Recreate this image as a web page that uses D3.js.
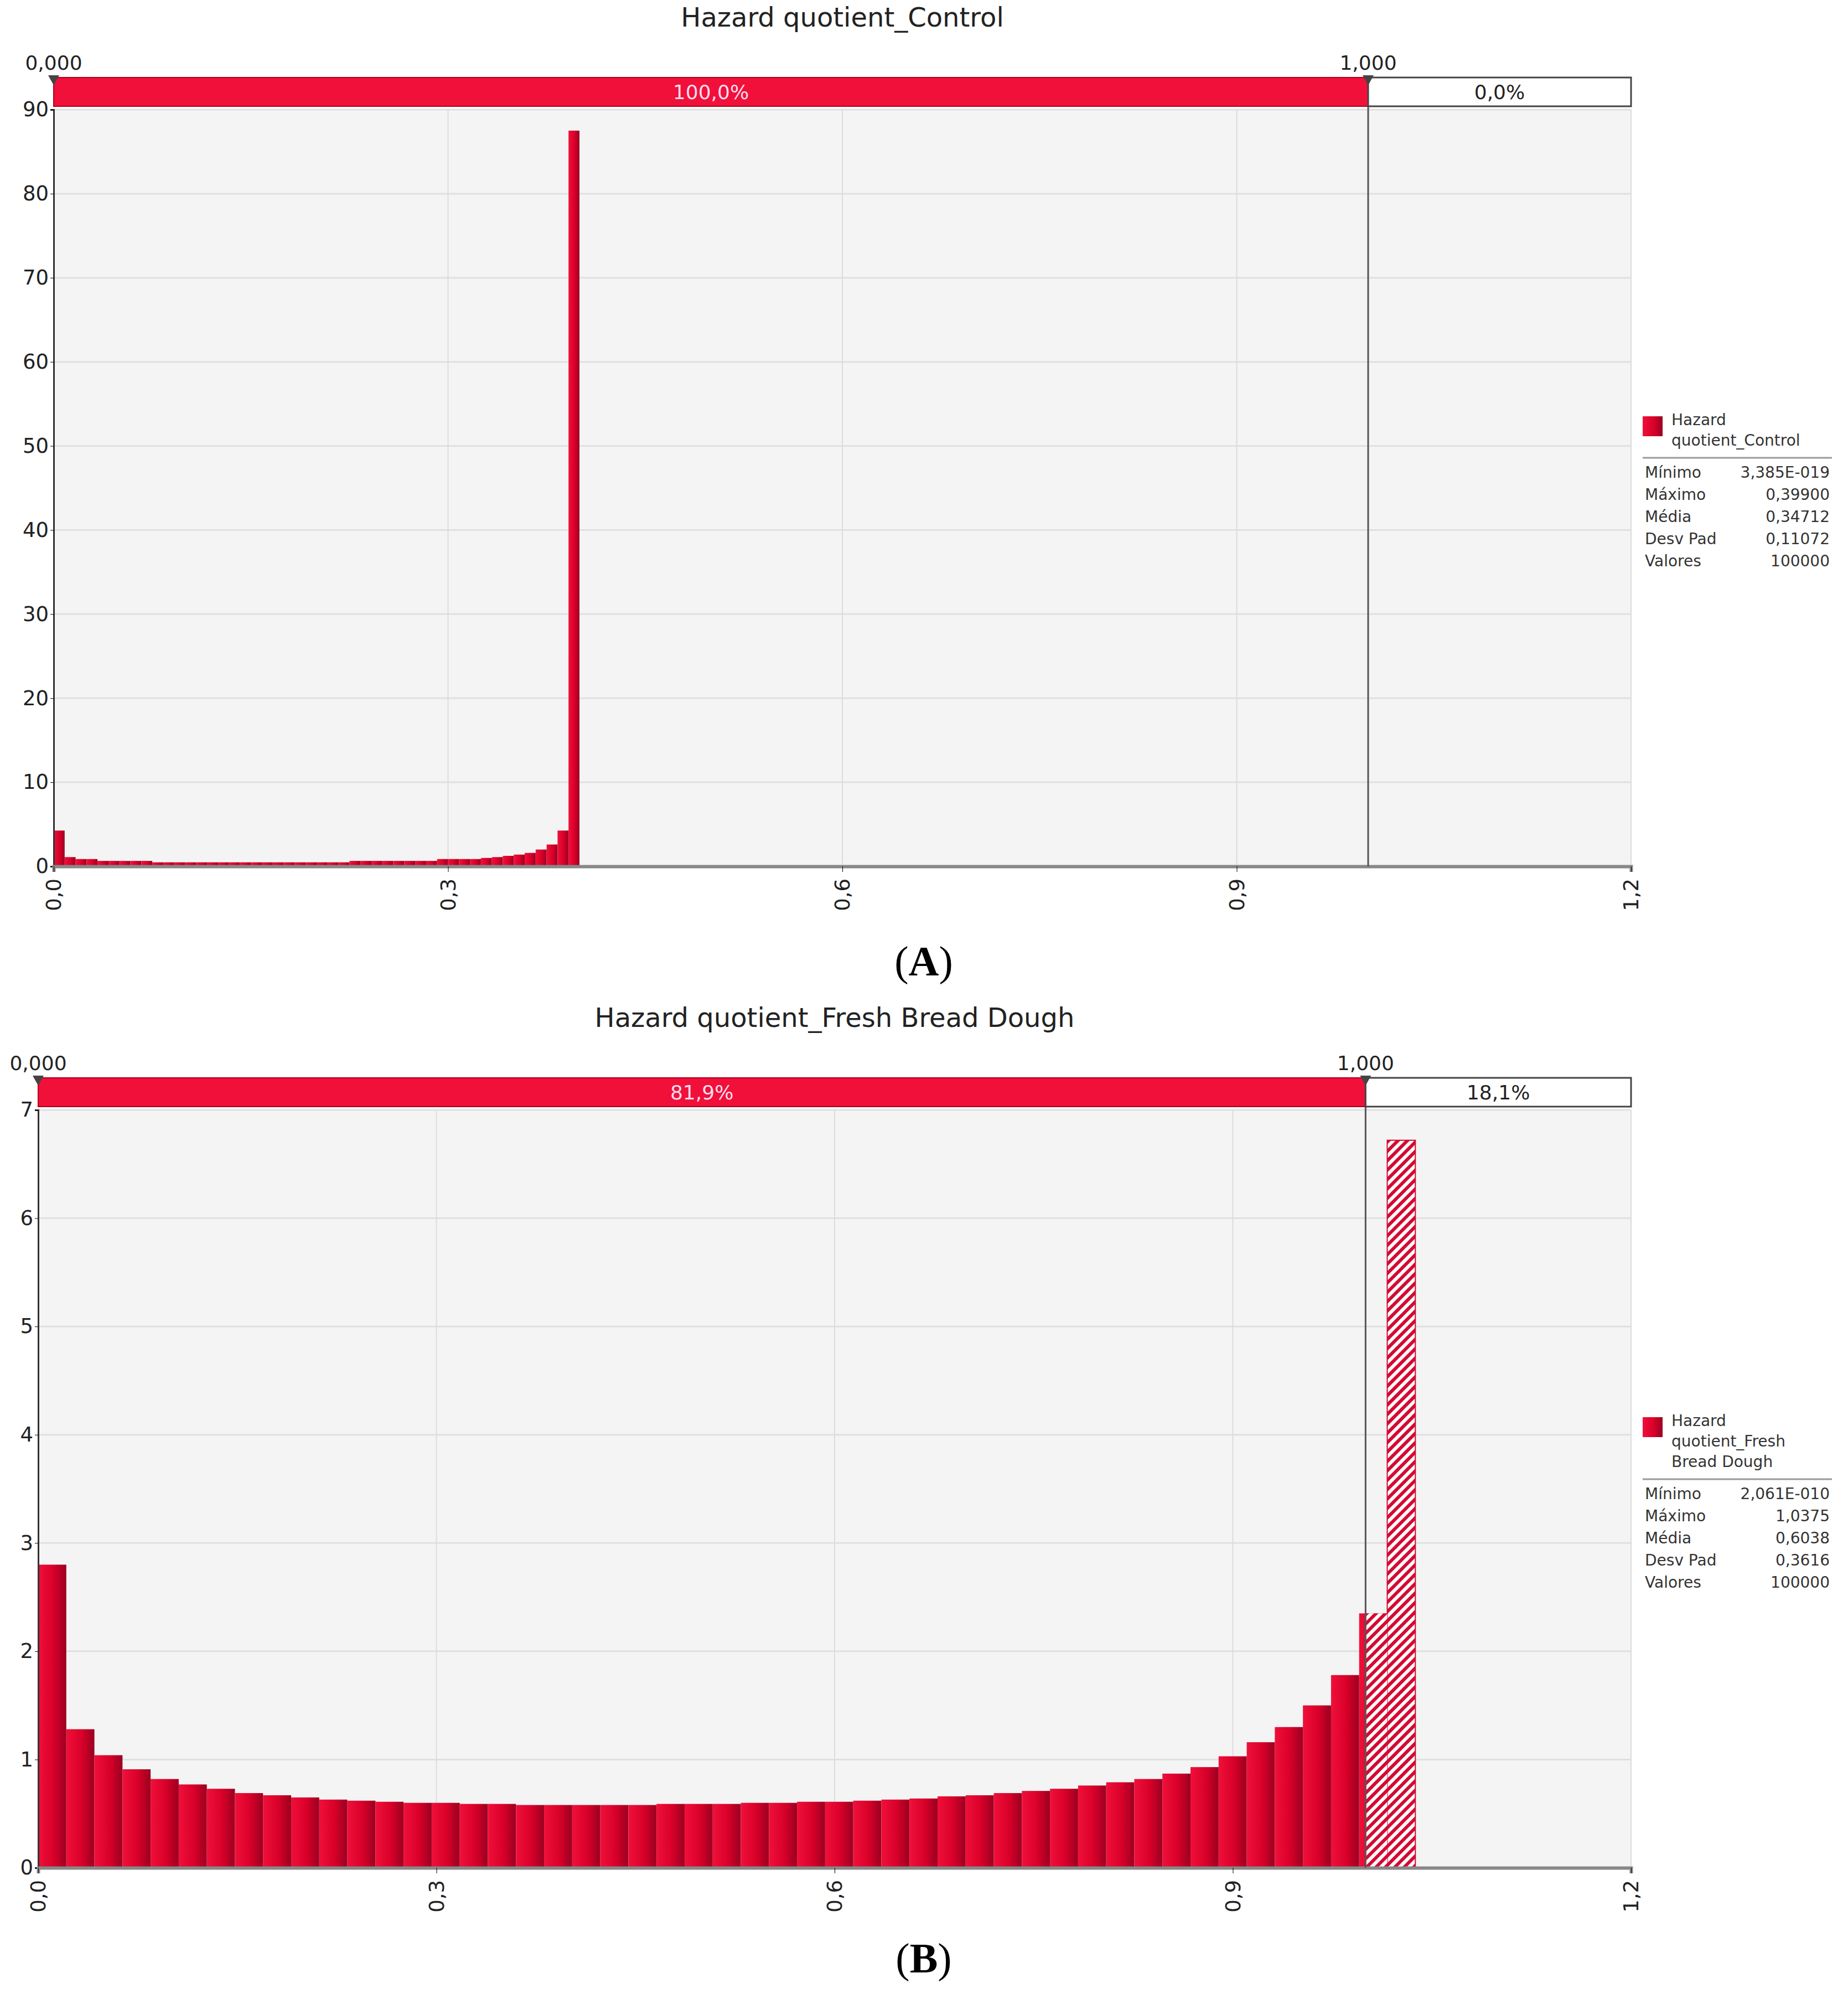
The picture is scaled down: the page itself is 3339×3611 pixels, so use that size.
<!DOCTYPE html>
<html><head><meta charset="utf-8">
<script src="https://cdn.jsdelivr.net/npm/d3@7"></script>
<style>body{margin:0;background:#fff}</style>
</head><body>
<script>
var width = 3339, height = 3611;

// Panel A data: 48 bins between 0 and 0.4
var binsA = [4.26, 1.1, 0.87, 0.87, 0.65, 0.65, 0.65, 0.65, 0.65,
  0.48, 0.48, 0.48, 0.48, 0.48, 0.48, 0.48, 0.48, 0.48, 0.48, 0.48, 0.48, 0.48, 0.48, 0.48, 0.48, 0.48, 0.48,
  0.65, 0.65, 0.65, 0.65, 0.65, 0.65, 0.65, 0.65,
  0.87, 0.87, 0.87, 0.87,
  1.0, 1.1, 1.25, 1.4, 1.6, 2.0, 2.6, 4.26, 87.5];
var statsA = [["Mínimo", "3,385E-019"], ["Máximo", "0,39900"], ["Média", "0,34712"], ["Desv Pad", "0,11072"], ["Valores", "100000"]];

// Panel B data: 49 bins between 0 and 1.0375
var binsB = [2.8, 1.28, 1.04, 0.91, 0.82, 0.77, 0.73, 0.69, 0.67, 0.65, 0.63, 0.62, 0.61, 0.60, 0.60, 0.59, 0.59,
  0.58, 0.58, 0.58, 0.58, 0.58, 0.59, 0.59, 0.59, 0.60, 0.60, 0.61, 0.61, 0.62, 0.63, 0.64, 0.66, 0.67, 0.69,
  0.71, 0.73, 0.76, 0.79, 0.82, 0.87, 0.93, 1.03, 1.16, 1.3, 1.5, 1.78, 2.35, 6.72];
var statsB = [["Mínimo", "2,061E-010"], ["Máximo", "1,0375"], ["Média", "0,6038"], ["Desv Pad", "0,3616"], ["Valores", "100000"]];

var xTicks = [0, 0.3, 0.6, 0.9, 1.2];
var fmt = function(v, n) { return v.toFixed(n).replace(".", ","); };

var svg = d3.select("body").append("svg")
    .attr("width", width)
    .attr("height", height)
    .style("font-family", "'DejaVu Sans', sans-serif");

var defs = svg.append("defs");
var grad = defs.append("linearGradient").attr("id", "barGrad");
grad.append("stop").attr("offset", "0%").attr("stop-color", "#f0103a");
grad.append("stop").attr("offset", "55%").attr("stop-color", "#d80029");
grad.append("stop").attr("offset", "100%").attr("stop-color", "#9a0020");
var pat = defs.append("pattern").attr("id", "hatch")
    .attr("patternUnits", "userSpaceOnUse").attr("width", 12).attr("height", 12)
    .attr("patternTransform", "rotate(45)");
pat.append("rect").attr("width", 12).attr("height", 12).attr("fill", "#fff");
pat.append("rect").attr("width", 6).attr("height", 12).attr("fill", "#d40a32");

function drawPanel(cfg) {
  var x = d3.scaleLinear().domain([0, 1.2]).range([cfg.left, 2947]);
  var y = d3.scaleLinear().domain([0, cfg.ymax]).range([cfg.bottom, cfg.top]);
  var g = svg.append("g");
  var bw = cfg.xmax / cfg.bins.length;

  g.append("text").attr("x", (cfg.left + 2947) / 2).attr("y", cfg.top - 150)
    .attr("text-anchor", "middle").attr("font-size", 48).attr("fill", "#222").text(cfg.title);

  g.append("rect").attr("x", cfg.left).attr("y", cfg.top).attr("width", 2947 - cfg.left)
    .attr("height", cfg.bottom - cfg.top).attr("fill", "#f4f4f4");

  g.selectAll(".gy").data(y.ticks(cfg.ymax > 20 ? 10 : 7)).enter().append("line")
    .attr("x1", cfg.left).attr("x2", 2947).attr("y1", y).attr("y2", y)
    .attr("stroke", "#e0e0e0").attr("stroke-width", 3);
  g.selectAll(".gx").data(xTicks.slice(1)).enter().append("line")
    .attr("x1", x).attr("x2", x).attr("y1", cfg.top).attr("y2", cfg.bottom)
    .attr("stroke", "#dcdcdc").attr("stroke-width", 2);

  // bars
  g.selectAll(".bar").data(cfg.bins).enter().append("rect")
    .attr("x", function(d, i) { return x(i * bw); })
    .attr("width", function() { return x(bw) - x(0); })
    .attr("y", function(d) { return y(d); })
    .attr("height", function(d) { return cfg.bottom - y(d); })
    .attr("fill", function(d, i) { return (i * bw) >= 1 - 1e-9 || (i + 1) * bw > 1.0 + bw * 0.9 ? "url(#hatch)" : "url(#barGrad)"; })
    .attr("stroke", function(d, i) { return (i * bw) > 1 ? "#d40a32" : "none"; })
    .attr("stroke-width", 2);
  // part of bin crossing 1.0 that lies right of the cut is hatched
  cfg.bins.forEach(function(d, i) {
    var a = i * bw, b = (i + 1) * bw;
    if (a < 1 && b > 1) {
      g.append("rect").attr("x", x(1)).attr("width", x(b) - x(1)).attr("y", y(d))
        .attr("height", cfg.bottom - y(d)).attr("fill", "url(#hatch)");
    }
  });

  // axes
  var ay = g.append("g").attr("transform", "translate(" + cfg.left + ",0)")
    .call(d3.axisLeft(y).ticks(cfg.ymax > 20 ? 10 : 7).tickSize(6).tickFormat(d3.format("d")));
  ay.selectAll("text").attr("font-size", 37).attr("fill", "#222").attr("font-family", "'DejaVu Sans', sans-serif");
  ay.select(".domain").attr("stroke", "#333").attr("stroke-width", 3);

  var ax = g.append("g").attr("transform", "translate(0," + cfg.bottom + ")")
    .call(d3.axisBottom(x).tickValues(xTicks).tickSize(10).tickFormat(function(d) { return fmt(d, 1); }));
  ax.select(".domain").attr("stroke", "#888").attr("stroke-width", 6);
  ax.selectAll("text").attr("font-size", 37).attr("fill", "#222").attr("font-family", "'DejaVu Sans', sans-serif")
    .attr("transform", "rotate(-90)").attr("text-anchor", "end").attr("dy", "0.35em").attr("x", -22).attr("y", 0);

  // cutoff line at 1.0
  g.append("line").attr("x1", x(1)).attr("x2", x(1)).attr("y1", cfg.top - 60).attr("y2", cfg.bottom)
    .attr("stroke", "#555").attr("stroke-width", 3);

  // percent band
  var bt = cfg.top - 58, bh = 52;
  g.append("rect").attr("x", x(0)).attr("y", bt).attr("width", x(1) - x(0)).attr("height", bh)
    .attr("fill", "#f0103a").attr("stroke", "#b0001e").attr("stroke-width", 2);
  g.append("rect").attr("x", x(1)).attr("y", bt).attr("width", 2947 - x(1)).attr("height", bh)
    .attr("fill", "#fff").attr("stroke", "#444").attr("stroke-width", 3);
  g.append("text").attr("x", (x(0) + x(1)) / 2).attr("y", bt + bh / 2).attr("dy", "0.35em")
    .attr("text-anchor", "middle").attr("font-size", 36).attr("fill", "#fde").text(cfg.pctIn);
  g.append("text").attr("x", (x(1) + 2947) / 2).attr("y", bt + bh / 2).attr("dy", "0.35em")
    .attr("text-anchor", "middle").attr("font-size", 36).attr("fill", "#222").text(cfg.pctOut);
  [0, 1].forEach(function(v) {
    g.append("path").attr("d", "M" + (x(v) - 10) + "," + (bt - 4) + "L" + (x(v) + 10) + "," + (bt - 4) + "L" + x(v) + "," + (bt + 14) + "Z")
      .attr("fill", "#444");
    g.append("text").attr("x", x(v)).attr("y", bt - 14).attr("text-anchor", "middle")
      .attr("font-size", 36).attr("fill", "#222").text(fmt(v, 3));
  });

  // legend
  var lx = 2968, ly = cfg.legendY;
  g.append("rect").attr("x", lx).attr("y", ly).attr("width", 36).attr("height", 36).attr("fill", "url(#barGrad)");
  cfg.legendName.forEach(function(t, i) {
    g.append("text").attr("x", lx + 52).attr("y", ly + 16 + i * 37).attr("font-size", 28).attr("fill", "#333").text(t);
  });
  var sy = ly + 16 + (cfg.legendName.length - 1) * 37 + 22;
  g.append("line").attr("x1", lx).attr("x2", 3310).attr("y1", sy).attr("y2", sy).attr("stroke", "#999").attr("stroke-width", 3);
  cfg.stats.forEach(function(s, i) {
    var ty = sy + 36 + i * 40;
    g.append("text").attr("x", lx + 4).attr("y", ty).attr("font-size", 28).attr("fill", "#333").text(s[0]);
    g.append("text").attr("x", 3306).attr("y", ty).attr("text-anchor", "end").attr("font-size", 28).attr("fill", "#333").text(s[1]);
  });

  // panel label
  svg.append("text").attr("x", 1669).attr("y", cfg.labelY).attr("text-anchor", "middle")
    .attr("font-family", "'Liberation Serif', serif").attr("font-size", 76).attr("fill", "#000")
    .html("(<tspan font-weight='bold'>" + cfg.label + "</tspan>)");
}

drawPanel({ title: "Hazard quotient_Control", bins: binsA, xmax: 0.4, ymax: 90,
  left: 97, top: 198, bottom: 1565, pctIn: "100,0%", pctOut: "0,0%",
  legendY: 752, legendName: ["Hazard", "quotient_Control"], stats: statsA, label: "A", labelY: 1762 });

drawPanel({ title: "Hazard quotient_Fresh Bread Dough", bins: binsB, xmax: 1.0375, ymax: 7,
  left: 69, top: 2005, bottom: 3374, pctIn: "81,9%", pctOut: "18,1%",
  legendY: 2560, legendName: ["Hazard", "quotient_Fresh", "Bread Dough"], stats: statsB, label: "B", labelY: 3563 });
</script>
</body></html>
